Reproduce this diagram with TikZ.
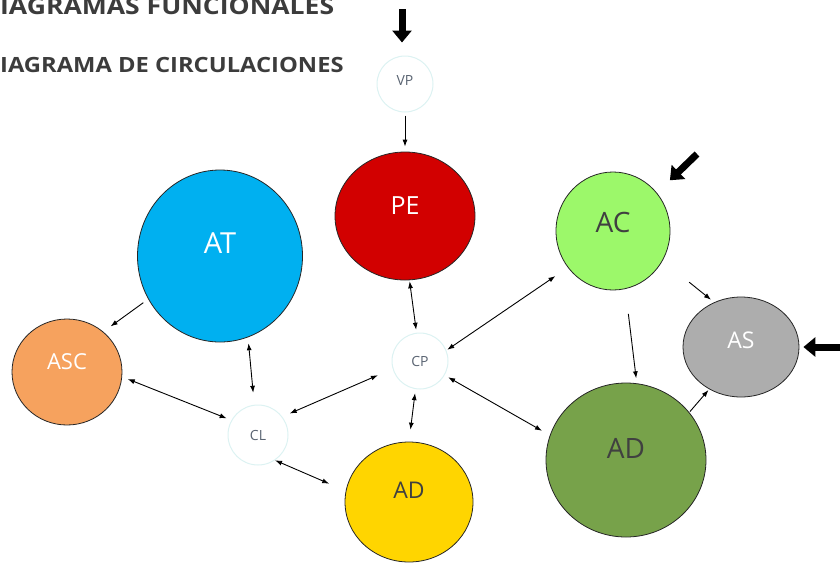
\documentclass[tikz,border=0pt]{standalone}
\usepackage{fontspec}
\setmainfont{Open Sans}
\usepackage{tikz}
\usetikzlibrary{arrows.meta,shapes.geometric}

\definecolor{peRed}{HTML}{D20000}
\definecolor{atBlue}{HTML}{00B0F0}
\definecolor{acGreen}{HTML}{9CF86A}
\definecolor{ascOrange}{HTML}{F6A25E}
\definecolor{asGray}{HTML}{ADADAD}
\definecolor{adYellow}{HTML}{FFD500}
\definecolor{adGreen}{HTML}{77A24A}
\definecolor{hubLine}{HTML}{DCF2F2}
\definecolor{hubText}{HTML}{5A6472}
\definecolor{titleGray}{HTML}{3C3C3C}

\begin{document}
\begin{tikzpicture}[
  x=1pt, y=-1pt,
  blob/.style={ellipse, draw=black!85, line width=0.8pt, inner sep=0pt},
  hub/.style={circle, draw=hubLine, line width=1pt, minimum size=56pt, inner sep=0pt,
    text=hubText, font=\fontsize{14}{14}\selectfont},
  lift/.style={text depth=#1},
  title/.style={anchor=base west, inner sep=0pt, text=titleGray},
  arr/.style={-{Latex[length=7pt,width=5pt]}, line width=0.9pt},
  darr/.style={{Latex[length=7pt,width=5pt]}-{Latex[length=7pt,width=5pt]}, line width=0.9pt},
  bigarr/.style={-{Triangle[length=12pt,width=19pt]}, line width=7pt}
]
\useasboundingbox (0,0) rectangle (840,563);

% titles
\node[title, font=\bfseries\fontsize{23.5}{23.5}\selectfont] (titleA) at (0,14)
  {\scalebox{1.13}[1]{IAGRAMAS FUNCIONALES}};
\node[title, font=\bfseries\fontsize{21}{21}\selectfont] (titleB) at (0,72)
  {\scalebox{1.13}[1]{IAGRAMA DE CIRCULACIONES}};

% small hubs
\node[hub, lift=8pt] (VP) at (405,84) {VP};
\node[hub] (CP) at (420,361) {CP};
\node[hub, minimum size=60pt] (CL) at (258,435) {CL};

% spaces
\node[blob, fill=peRed, text=white, minimum width=140pt, minimum height=128pt, lift=20pt,
  font=\fontsize{25}{25}\selectfont] (PE) at (405,216) {PE};
\node[blob, fill=atBlue, text=white, minimum width=165pt, minimum height=172pt, lift=26pt,
  font=\fontsize{29}{29}\selectfont] (AT) at (220,256) {AT};
\node[blob, fill=acGreen, text=black!75, minimum width=114pt, minimum height=118pt, lift=18pt,
  font=\fontsize{28}{28}\selectfont] (AC) at (613,231) {AC};
\node[blob, fill=ascOrange, text=white, minimum width=110pt, minimum height=106pt, lift=20pt,
  font=\fontsize{22}{22}\selectfont] (ASC) at (67,372) {ASC};
\node[blob, fill=asGray, text=white, minimum width=116pt, minimum height=100pt, lift=14pt,
  font=\fontsize{23}{23}\selectfont] (AS) at (741,347) {AS};
\node[blob, fill=adYellow, text=black!75, minimum width=128pt, minimum height=120pt, lift=24pt,
  font=\fontsize{23}{23}\selectfont] (ADy) at (409,502) {AD};
\node[blob, fill=adGreen, text=black!75, minimum width=160pt, minimum height=154pt, lift=24pt,
  font=\fontsize{28}{28}\selectfont] (ADg) at (626,460) {AD};

% entries
\coordinate (inVP) at (402,9);
\coordinate (inAC) at (697,154);
\coordinate (inAS) at (842,347);
\draw[bigarr, shorten >=13pt] (inVP) -- (inVP |- VP.north);
\draw[bigarr, shorten >=18pt] (inAC) -- (AC.41);
\draw[bigarr, shorten >=4pt] (inAS) -- (AS.east);

% circulations
\draw[arr, shorten <=3pt, shorten >=5pt] (VP) -- (PE);
\draw[darr, shorten <=1pt, shorten >=3pt] (PE.-86) -- (CP.97);
\draw[arr, shorten <=6pt, shorten >=9pt] (AT.-149) -- (ASC.48);
\draw[darr, shorten <=6pt, shorten >=12pt] (AT.-71) -- (CL.97);
\draw[darr, shorten <=6pt, shorten >=5pt] (ASC.-5) -- (CL.151);
\draw[darr, shorten <=8pt, shorten >=16pt] (CL.37) -- (CP.196);
\draw[darr, shorten <=1pt, shorten >=15pt] (CP.22) -- (AC.-141);
\draw[darr, shorten <=4pt, shorten >=9pt] (CP.-30) -- (ADg.162);
\draw[darr, shorten <=4pt, shorten >=12pt] (CP.-99) -- (ADy.north);
\draw[darr, shorten >=18pt] (CL.-56) -- (ADy.170);
\draw[arr, shorten <=25pt, shorten >=5pt] (AC.-78) -- (ADg.82);
\draw[arr, shorten <=34pt, shorten >=4pt] (AC.-31) -- (AS.121);
\draw[arr, shorten <=1pt, shorten >=1pt] (ADg.37) -- (AS.-127);
\end{tikzpicture}
\end{document}
